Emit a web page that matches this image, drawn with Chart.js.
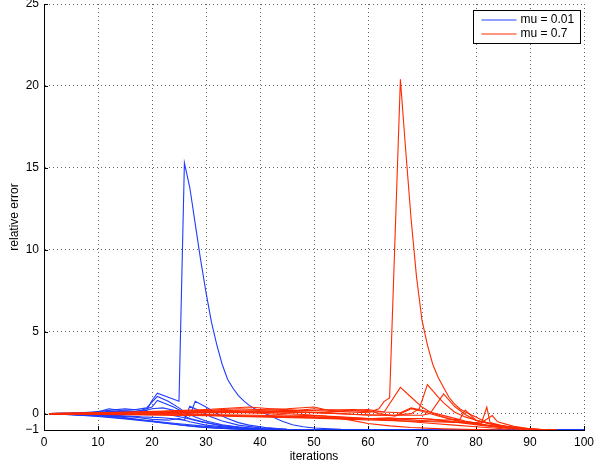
<!DOCTYPE html>
<html>
<head>
<meta charset="utf-8">
<script src="https://cdn.jsdelivr.net/npm/chart.js@4.4.1/dist/chart.umd.min.js"></script>
<style>
  body { margin: 0; background: #fff; overflow: hidden; }
  canvas { display: block; }
</style>
</head>
<body>
<canvas id="errChart" width="594" height="467"></canvas>
<script>
// axis ticks and legend text
const xTicks = [0, 10, 20, 30, 40, 50, 60, 70, 80, 90, 100];
const yTicks = [-1, 0, 5, 10, 15, 20, 25];
const seriesNames = ['mu = 0.01', 'mu = 0.7'];
const seriesColors = ['#1f3cff', '#ff2a00'];

// mu = 0.01 runs, [iteration, relative error]
const blueRun1 = [[1,0],[5,0.02],[10,0.08],[13,0.15],[16,0.1],[19,0.2],[20,0.8],[21,1.25],[23,1.0],[25,0.75],[26,15.3],[27,13.8],[28,11.6],[29,9.4],[30,7.4],[31,5.6],[32,4.2],[33,3.0],[34,2.1],[35,1.55],[36,1.1],[37,0.78],[38,0.5],[39,0.3],[40,0.14],[42,-0.15],[44,-0.45],[46,-0.68],[48,-0.8],[50,-0.88],[55,-0.96],[60,-1],[100,-1]];
const blueRun2 = [[1,0],[6,0.03],[10,0.1],[12,0.3],[14,0.2],[17,0.25],[19,0.35],[20,0.7],[21,1.05],[23,0.75],[25,0.35],[26,0.1],[28,-0.2],[30,-0.45],[33,-0.68],[36,-0.82],[40,-0.92],[45,-0.98],[50,-1],[100,-1]];
const blueRun3 = [[1,0],[5,0.02],[9,0.1],[12,0.2],[15,0.3],[18,0.2],[20,0.4],[21,0.8],[24,0.4],[26,0.05],[27,-0.15],[28,0.75],[30,0.4],[32,0.0],[34,-0.3],[36,-0.55],[38,-0.7],[41,-0.85],[45,-0.95],[50,-1],[100,-1]];
const blueRun4 = [[1,0],[7,-0.02],[11,0.05],[15,0.15],[18,0.1],[20,0.3],[22,0.35],[24,0.2],[25,0.0],[27,-0.3],[30,-0.55],[33,-0.75],[37,-0.88],[42,-0.96],[47,-1],[100,-1]];
const blueRun5 = [[1,0],[6,-0.05],[10,-0.1],[14,-0.12],[18,-0.2],[22,-0.25],[25,-0.35],[26,-0.4],[27,0.45],[29,0.15],[31,-0.2],[33,-0.45],[36,-0.7],[40,-0.87],[45,-0.96],[50,-1],[100,-1]];
const blueRun6 = [[1,0],[5,-0.05],[10,-0.15],[15,-0.28],[20,-0.45],[25,-0.62],[30,-0.78],[35,-0.9],[40,-0.96],[46,-1],[100,-1]];
const blueRun7 = [[1,0],[5,-0.06],[10,-0.18],[15,-0.32],[20,-0.5],[24,-0.65],[28,-0.8],[32,-0.89],[37,-0.96],[43,-1],[100,-1]];
const blueRun8 = [[1,0],[7,-0.05],[12,-0.12],[17,-0.22],[20,-0.35],[23,-0.4],[25,-0.3],[27,-0.5],[30,-0.7],[34,-0.84],[39,-0.94],[45,-0.99],[50,-1],[100,-1]];
const blueRun9 = [[1,0],[8,0.03],[12,0.08],[16,0.15],[19,0.1],[21,0.05],[23,-0.05],[26,-0.25],[29,-0.5],[33,-0.73],[38,-0.88],[44,-0.97],[52,-1],[100,-1]];
const blueRun10 = [[1,0],[6,-0.08],[10,-0.13],[14,-0.2],[18,-0.38],[22,-0.56],[26,-0.72],[30,-0.84],[35,-0.93],[40,-0.98],[45,-1],[100,-1]];

// mu = 0.7 runs
const redRun1 = [[1,0],[8,0.03],[15,0.06],[22,0.1],[30,0.15],[38,0.22],[45,0.2],[50,0.18],[55,0.12],[60,0.05],[62,0.3],[63,0.75],[64,0.95],[66,20.4],[67,16],[68,11.8],[69,8.3],[70,5.7],[71,4.2],[72,3.0],[73,2.2],[74,1.6],[75,1.0],[76,0.6],[77,0.3],[78,0.1],[79,-0.05],[80,-0.2],[82,-0.55],[84,-0.72],[87,-0.87],[90,-0.95],[93,-0.99],[95,-1]];
const redRun2 = [[1,0],[8,0.02],[15,0.05],[22,0.12],[30,0.2],[36,0.3],[40,0.25],[45,0.3],[50,0.4],[52,0.25],[56,0.2],[60,0.12],[63,0.1],[66,1.6],[68,1.0],[70,0.4],[72,0.0],[75,-0.3],[78,-0.5],[82,-0.7],[86,-0.86],[90,-0.95],[94,-1]];
const redRun3 = [[1,0],[10,0.02],[20,0.05],[30,0.1],[40,0.15],[48,0.1],[55,0.0],[60,-0.1],[65,-0.1],[68,0.0],[69.5,0.3],[71,1.77],[73,1.0],[74,0.65],[76,0.1],[78,-0.2],[81,-0.5],[84,-0.72],[88,-0.9],[92,-0.98],[95,-1]];
const redRun4 = [[1,0],[10,-0.02],[20,0.0],[30,0.05],[40,0.1],[50,0.05],[58,-0.05],[64,-0.1],[70,-0.1],[71.5,0.0],[74,1.2],[76,0.45],[78,-0.05],[80,-0.4],[83,-0.65],[86,-0.82],[90,-0.94],[94,-1]];
const redRun5 = [[1,0],[10,0.0],[20,-0.05],[30,-0.1],[40,-0.18],[50,-0.25],[55,-0.3],[60,-0.32],[65,-0.3],[70,-0.3],[74,-0.4],[77,-0.35],[78,0.22],[80,-0.4],[83,-0.65],[87,-0.85],[91,-0.96],[95,-1]];
const redRun6 = [[1,0],[10,-0.05],[20,-0.08],[30,-0.12],[40,-0.2],[50,-0.28],[60,-0.38],[70,-0.48],[78,-0.55],[81,-0.58],[82,0.4],[82.6,-0.55],[85,-0.75],[88,-0.88],[92,-0.97],[95,-1]];
const redRun7 = [[1,0],[10,0.02],[20,0.0],[30,-0.05],[40,-0.1],[50,-0.2],[60,-0.3],[70,-0.42],[76,-0.5],[80,-0.55],[81.5,-0.45],[83,-0.12],[84,-0.5],[87,-0.78],[90,-0.92],[94,-1]];
const redRun8 = [[1,0],[8,0.04],[15,0.1],[22,0.15],[30,0.25],[38,0.4],[42,0.3],[47,0.2],[50,0.3],[53,0.2],[57,0.25],[60,0.2],[62,0.0],[65,-0.15],[68,0.3],[70,0.15],[73,-0.15],[76,-0.4],[80,-0.65],[84,-0.82],[88,-0.93],[92,-0.99],[95,-1]];
const redRun9 = [[1,0],[10,-0.02],[20,0.02],[30,0.08],[35,0.12],[40,0.02],[45,-0.08],[50,-0.12],[55,-0.2],[60,-0.3],[64,-0.4],[68,-0.5],[72,-0.6],[76,-0.7],[80,-0.8],[85,-0.92],[90,-0.98],[93,-1]];
const redRun10 = [[1,0],[10,0.02],[20,0.06],[28,0.12],[35,0.15],[42,0.05],[48,-0.05],[52,-0.15],[56,-0.35],[60,-0.6],[64,-0.75],[68,-0.85],[74,-0.93],[80,-0.97],[86,-1]];
const redRun11 = [[1,0],[10,0],[20,0.02],[30,0.06],[40,0.05],[44,0.15],[48,0.1],[52,0.05],[57,0.2],[60,0.25],[63,0.1],[66,0.05],[68,0.35],[70,0.2],[72,0.05],[75,-0.2],[78,-0.45],[82,-0.7],[86,-0.87],[90,-0.96],[95,-1]];
const redRun12 = [[1,0],[10,-0.03],[20,-0.07],[30,-0.1],[40,-0.15],[50,-0.22],[56,-0.28],[61,-0.3],[64,-0.25],[67,-0.35],[70,-0.3],[73,-0.4],[77,-0.55],[81,-0.72],[85,-0.86],[89,-0.95],[93,-1]];

const blueRuns = [blueRun1, blueRun2, blueRun3, blueRun4, blueRun5, blueRun6, blueRun7, blueRun8, blueRun9, blueRun10];
const redRuns = [redRun1, redRun2, redRun3, redRun4, redRun5, redRun6, redRun7, redRun8, redRun9, redRun10, redRun11, redRun12];

const FONT = '"Liberation Sans", Arial, Helvetica, sans-serif';
Chart.defaults.color = '#000';
Chart.defaults.font.family = FONT;
Chart.defaults.font.size = 12;

function makeSet(run, color) {
    return {
        data: run.map(p => ({ x: p[0], y: p[1] })),
        borderColor: color,
        borderWidth: 1.1,
        pointRadius: 0,
        tension: 0,
        fill: false
    };
}

// red first so it is drawn on top of the blue runs
const datasets = redRuns.map(r => makeSet(r, seriesColors[1]))
    .concat(blueRuns.map(r => makeSet(r, seriesColors[0])));

// inward tick marks + boxed legend like the original figure
const matlabLook = {
    id: 'matlabLook',
    beforeDatasetsDraw(chart) {
        const ctx = chart.ctx, a = chart.chartArea;
        const xs = chart.scales.x, ys = chart.scales.y;
        ctx.save();
        ctx.strokeStyle = '#000';
        ctx.lineWidth = 1;
        ctx.beginPath();
        xTicks.forEach(v => {
            const px = Math.round(xs.getPixelForValue(v)) + 0.5;
            ctx.moveTo(px, a.bottom);
            ctx.lineTo(px, a.bottom - 4);
        });
        yTicks.forEach(v => {
            const py = Math.round(ys.getPixelForValue(v)) + 0.5;
            ctx.moveTo(a.left, py);
            ctx.lineTo(a.left + 4, py);
        });
        ctx.stroke();
        ctx.restore();
    },
    afterDraw(chart) {
        const ctx = chart.ctx, a = chart.chartArea;
        const bx = Math.round(a.right - 111) + 0.5, by = Math.round(a.top + 6) + 0.5;
        ctx.save();
        ctx.fillStyle = '#fff';
        ctx.fillRect(bx, by, 107, 33);
        ctx.strokeStyle = '#000';
        ctx.lineWidth = 1;
        ctx.strokeRect(bx, by, 107, 33);
        ctx.font = '12px ' + FONT;
        ctx.textBaseline = 'middle';
        seriesNames.forEach((name, i) => {
            const ly = by + 9.5 + i * 14;
            ctx.strokeStyle = seriesColors[i];
            ctx.beginPath();
            ctx.moveTo(bx + 8, ly);
            ctx.lineTo(bx + 43, ly);
            ctx.stroke();
            ctx.fillStyle = '#000';
            ctx.fillText(name, bx + 47, ly);
        });
        ctx.restore();
    }
};

new Chart(document.getElementById('errChart'), {
    type: 'line',
    data: { datasets: datasets },
    plugins: [matlabLook],
    options: {
        responsive: false,
        animation: false,
        layout: { padding: { top: 4, right: 10, left: 0, bottom: 0 } },
        plugins: { legend: { display: false }, tooltip: { enabled: false } },
        scales: {
            x: {
                type: 'linear',
                min: 0,
                max: 100,
                afterBuildTicks: s => { s.ticks = xTicks.map(v => ({ value: v })); },
                afterFit: s => { s.height = 37; s.paddingLeft = 0; s.paddingRight = 0; },
                ticks: { padding: 5, maxRotation: 0, autoSkip: false },
                grid: { color: 'rgba(0,0,0,0.6)', drawTicks: false, lineWidth: 1 },
                border: { display: true, color: '#000', width: 1, dash: [1, 3] },
                title: { display: true, text: 'iterations', padding: { top: 0, bottom: 3 }, font: { size: 12 } }
            },
            y: {
                type: 'linear',
                min: -1,
                max: 25,
                afterBuildTicks: s => { s.ticks = yTicks.map(v => ({ value: v })); },
                afterFit: s => { s.width = 44; s.paddingTop = 0; s.paddingBottom = 0; },
                ticks: {
                    padding: 5,
                    autoSkip: false,
                    callback: v => (v < 0 ? '\u2212' + Math.abs(v) : String(v))
                },
                grid: { color: 'rgba(0,0,0,0.6)', drawTicks: false, lineWidth: 1 },
                border: { display: true, color: '#000', width: 1, dash: [1, 3] },
                title: { display: true, text: 'relative error', padding: { top: 7, bottom: 0 }, font: { size: 12 } }
            }
        }
    }
});
</script>
</body>
</html>
